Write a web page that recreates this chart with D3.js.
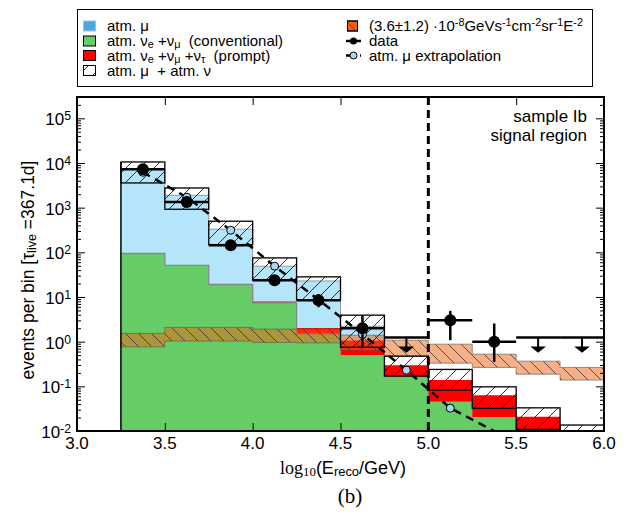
<!DOCTYPE html>
<html>
<head>
<meta charset="utf-8">
<script src="https://cdn.jsdelivr.net/npm/d3@7"></script>
<style>
  body { margin: 0; background: #fff; }
  svg { display: block; }
  text { font-family: 'Liberation Sans', Arial, sans-serif; fill: #000; }
</style>
</head>
<body>
<div id="chart"></div>
<script>
// bin edges in log10(E/GeV)
const binEdges = [3.25, 3.5, 3.75, 4.0, 4.25, 4.5, 4.75, 5.0, 5.25, 5.5, 5.75, 6.0];
const binCenters = [3.375, 3.625, 3.875, 4.125, 4.375, 4.625, 4.875, 5.125, 5.375, 5.625, 5.875];

// stacked MC (events per bin)
const conventional = [94, 51, 19, 7.4, 1.47, 0.5, 0.169, 0.045, 0.0205, 0.005, 0.003];
const prompt = [0.2, 0.2, 1.0, 0.65, 0.59, 0.58, 0.129, 0.093, 0.043, 0.0158, 0.006];
const atmMu = [7100, 1840, 309, 40.8, 20.8, 1.14, 0, 0, 0, 0, 0];

// uncertainty band of atm. mu + atm. nu
const bandHi = [10540, 2760, 497, 75, 28.2, 3.92, 0.474, 0.239, 0.0975, 0.033, 0.0136];
const bandLo = [3573, 920, 149, 23.8, 8.6, 0.75, 0.169, 0.082, 0.032, 0.0109, 0.004];

// E^-2 signal band
const sigHi = [1.53, 2.08, 2.08, 1.91, 1.91, 1.40, 1.08, 0.88, 0.525, 0.366, 0.265];
const sigLo = [0.766, 1.03, 1.03, 0.96, 0.94, 0.645, 0.474, 0.33, 0.265, 0.187, 0.138];

// data (null = upper limit bin)
const dataVal = [7230, 1340, 144, 23.8, 8.5, 2.0, null, 3.0, 1.0, null, null];
const dataLo = [7150, 1303, 132, 19, 5.9, 0.77, null, 1.08, 0.353, null, null];
const dataHi = [7315, 1377, 156, 29, 11.6, 3.93, null, 4.9, 2.55, null, null];
const upperLimit = [null, null, null, null, null, null, 1.24, null, null, 1.24, 1.24];

// atm. mu extrapolation
const extrapX = [3.375, 3.625, 3.875, 4.125, 4.375, 4.625, 4.875, 5.125, 5.375];
const extrapVal = [6200, 1710, 312, 48.9, 8.7, 1.46, 0.23, 0.0325, 0.0041];

const xTicks = [3.0, 3.5, 4.0, 4.5, 5.0, 5.5, 6.0];
const yExponents = [-2, -1, 0, 1, 2, 3, 4, 5];

const W = 641, H = 521;
const plot = { l: 77, r: 604, t: 97, b: 431 };

const svg = d3.select('#chart').append('svg').attr('width', W).attr('height', H);

const x = d3.scaleLinear().domain([3.0, 6.0]).range([plot.l, plot.r]);
const y = d3.scaleLog().domain([1e-2, 3e5]).range([plot.b, plot.t]).clamp(true);

// patterns
const defs = svg.append('defs');
defs.append('pattern').attr('id', 'hatchF').attr('patternUnits', 'userSpaceOnUse')
  .attr('width', 14).attr('height', 14)
  .append('path').attr('d', 'M-2,2 L2,-2 M0,14 L14,0 M12,16 L16,12')
  .attr('stroke', '#000').attr('stroke-width', 0.8);
defs.append('pattern').attr('id', 'hatchB').attr('patternUnits', 'userSpaceOnUse')
  .attr('width', 13).attr('height', 13)
  .append('path').attr('d', 'M-2,11 L2,15 M0,0 L13,13 M11,-2 L15,2')
  .attr('stroke', '#333').attr('stroke-width', 0.8);
defs.append('clipPath').attr('id', 'clip').append('rect')
  .attr('x', plot.l).attr('y', plot.t).attr('width', plot.r - plot.l).attr('height', plot.b - plot.t);

const g = svg.append('g').attr('clip-path', 'url(#clip)');

// step helpers
const stepPts = (lo, hi) => lo.flatMap((v, i) => [[binEdges[i], v, hi[i]], [binEdges[i + 1], v, hi[i]]]);
const stepArea = d3.area().x((d) => x(d[0])).y0((d) => y(d[1])).y1((d) => y(d[2]));
const stepLine = d3.line().x((d) => x(d[0])).y((d) => y(d[2]));

const floor = binCenters.map(() => 1e-3);
const redTop = conventional.map((v, i) => v + prompt[i]);
const blueTop = redTop.map((v, i) => v + atmMu[i]);

// green: conventional
g.append('path').attr('d', stepArea(stepPts(floor, conventional))).attr('fill', '#66cc66');
// red: prompt
g.append('path').attr('d', stepArea(stepPts(conventional, redTop))).attr('fill', '#ff0000');
// blue: atm mu
g.append('path').attr('d', stepArea(stepPts(redTop, blueTop))).attr('fill', '#b4e5fb');

g.append('path').attr('d', stepLine(stepPts(floor, conventional).slice(0, 10)))
  .attr('fill', 'none').attr('stroke', '#888').attr('stroke-width', 1.3);
g.append('path').attr('d', stepLine(stepPts(floor, blueTop).slice(0, 12)))
  .attr('fill', 'none').attr('stroke', '#999').attr('stroke-width', 1);

// signal band
g.append('path').attr('d', stepArea(stepPts(sigLo, sigHi)))
  .attr('fill', '#f06010').attr('fill-opacity', 0.5);
g.append('path').attr('d', stepArea(stepPts(sigLo, sigHi)))
  .attr('fill', 'url(#hatchB)').attr('stroke', '#555').attr('stroke-opacity', 0.6).attr('stroke-width', 1);

// MC uncertainty band
g.selectAll('.band').data(bandHi).join('rect').attr('class', 'band')
  .attr('x', (d, i) => x(binEdges[i]))
  .attr('width', (d, i) => x(binEdges[i + 1]) - x(binEdges[i]))
  .attr('y', (d) => y(d))
  .attr('height', (d, i) => y(bandLo[i]) - y(d))
  .attr('fill', 'url(#hatchF)').attr('stroke', '#000').attr('stroke-width', 1.3);
// left edge of histogram
g.append('line').attr('x1', x(binEdges[0])).attr('x2', x(binEdges[0]))
  .attr('y1', y(bandHi[0])).attr('y2', plot.b).attr('stroke', '#000').attr('stroke-width', 1.5);

// extrapolation
g.append('path').datum(extrapVal)
  .attr('d', d3.line().x((d, i) => x(extrapX[i])).y((d) => y(d)))
  .attr('fill', 'none').attr('stroke', '#000').attr('stroke-width', 2.5).attr('stroke-dasharray', '8,6');
g.selectAll('.ext').data(extrapVal.slice(0, 8)).join('circle').attr('class', 'ext')
  .attr('cx', (d, i) => x(extrapX[i])).attr('cy', (d) => y(d)).attr('r', 4)
  .attr('fill', '#a8d8f0').attr('stroke', '#000').attr('stroke-width', 1);

// signal region cut
g.append('line').attr('x1', x(5.0)).attr('x2', x(5.0)).attr('y1', plot.t).attr('y2', plot.b)
  .attr('stroke', '#000').attr('stroke-width', 3).attr('stroke-dasharray', '8,5');

// data
const dataIdx = dataVal.map((v, i) => i).filter((i) => dataVal[i] !== null);
g.selectAll('.xerr').data(dataIdx).join('line').attr('class', 'xerr')
  .attr('x1', (i) => x(binEdges[i])).attr('x2', (i) => x(binEdges[i + 1]))
  .attr('y1', (i) => y(dataVal[i])).attr('y2', (i) => y(dataVal[i]))
  .attr('stroke', '#000').attr('stroke-width', 2.5);
g.selectAll('.yerr').data(dataIdx).join('line').attr('class', 'yerr')
  .attr('x1', (i) => x(binCenters[i])).attr('x2', (i) => x(binCenters[i]))
  .attr('y1', (i) => y(dataLo[i])).attr('y2', (i) => y(dataHi[i]))
  .attr('stroke', '#000').attr('stroke-width', 2.5);
g.selectAll('.dot').data(dataIdx).join('circle').attr('class', 'dot')
  .attr('cx', (i) => x(binCenters[i])).attr('cy', (i) => y(dataVal[i])).attr('r', 6).attr('fill', '#000');

const ulIdx = upperLimit.map((v, i) => i).filter((i) => upperLimit[i] !== null);
g.selectAll('.ulbar').data(ulIdx).join('line').attr('class', 'ulbar')
  .attr('x1', (i) => x(binEdges[i])).attr('x2', (i) => x(binEdges[i + 1]))
  .attr('y1', (i) => y(upperLimit[i])).attr('y2', (i) => y(upperLimit[i]))
  .attr('stroke', '#000').attr('stroke-width', 2.5);
g.selectAll('.ularrow').data(ulIdx).join('path').attr('class', 'ularrow')
  .attr('d', (i) => {
    const cx = x(binCenters[i]), cy = y(upperLimit[i]);
    return `M${cx},${cy} L${cx},${cy + 12} M${cx - 5},${cy + 10} L${cx},${cy + 14} L${cx + 5},${cy + 10} Z`;
  })
  .attr('stroke', '#000').attr('stroke-width', 2).attr('fill', '#000');

// axes (inward ticks)
const minor = y.ticks().filter((v) => Math.abs(Math.log10(v) - Math.round(Math.log10(v))) > 1e-6);
const major = yExponents.map((e) => Math.pow(10, e));
const tickStyle = (sel) => { sel.select('.domain').remove(); sel.selectAll('line').attr('stroke', '#000'); };

svg.append('g').attr('transform', `translate(${plot.l},0)`)
  .call(d3.axisRight(y).tickValues(major).tickSize(8).tickFormat('')).call(tickStyle);
svg.append('g').attr('transform', `translate(${plot.l},0)`)
  .call(d3.axisRight(y).tickValues(minor).tickSize(4).tickFormat('')).call(tickStyle);
svg.append('g').attr('transform', `translate(${plot.r},0)`)
  .call(d3.axisLeft(y).tickValues(major).tickSize(8).tickFormat('')).call(tickStyle);
svg.append('g').attr('transform', `translate(${plot.r},0)`)
  .call(d3.axisLeft(y).tickValues(minor).tickSize(4).tickFormat('')).call(tickStyle);
svg.append('g').attr('transform', `translate(0,${plot.b})`)
  .call(d3.axisTop(x).tickValues(xTicks).tickSize(8).tickFormat('')).call(tickStyle);
svg.append('g').attr('transform', `translate(0,${plot.t})`)
  .call(d3.axisBottom(x).tickValues(xTicks).tickSize(8).tickFormat('')).call(tickStyle);

svg.append('rect').attr('x', plot.l).attr('y', plot.t)
  .attr('width', plot.r - plot.l).attr('height', plot.b - plot.t)
  .attr('fill', 'none').attr('stroke', '#000').attr('stroke-width', 2);

// tick labels
svg.selectAll('.xlab').data(xTicks).join('text').attr('class', 'xlab')
  .attr('x', (d) => x(d)).attr('y', plot.b + 18).attr('text-anchor', 'middle')
  .attr('font-size', 17).text((d) => d.toFixed(1));

const ylab = svg.selectAll('.ylab').data(yExponents).join('text').attr('class', 'ylab')
  .attr('x', 71).attr('y', (d) => y(Math.pow(10, d)) + 7).attr('text-anchor', 'end').attr('font-size', 17);
ylab.append('tspan').text('10');
ylab.append('tspan').attr('baseline-shift', '45%').attr('font-size', '72%').text((d) => d);

// rich text helper
function rich(sel, parts) {
  parts.forEach(([t, k, fam]) => {
    const ts = sel.append('tspan').text(t);
    if (k === 'sub') ts.attr('baseline-shift', '-18%').attr('font-size', '72%');
    if (k === 'sup') ts.attr('baseline-shift', '45%').attr('font-size', '72%');
    if (fam) ts.style('font-family', fam);
  });
}

// axis titles
const serif = "'Liberation Serif', 'Times New Roman', serif";
rich(svg.append('text').attr('x', 343).attr('y', 474).attr('text-anchor', 'middle').attr('font-size', 18),
  [['log', 'n', serif], ['10', 'sub', serif], ['(E', 'n'], ['reco', 'sub'], ['/GeV)', 'n']]);
rich(svg.append('text').attr('transform', 'translate(34,270) rotate(-90)').attr('text-anchor', 'middle').attr('font-size', 17.5),
  [['events per bin [τ', 'n'], ['live', 'sub'], [' =367.1d]', 'n']]);
svg.append('text').attr('x', 350).attr('y', 503).attr('text-anchor', 'middle')
  .attr('font-size', 21).style('font-family', serif).text('(b)');

// region annotation
svg.append('text').attr('x', 587).attr('y', 122).attr('text-anchor', 'end').attr('font-size', 17).text('sample Ib');
svg.append('text').attr('x', 587).attr('y', 141).attr('text-anchor', 'end').attr('font-size', 17).text('signal region');

// legend
const lg = svg.append('g');
lg.append('rect').attr('x', 77.5).attr('y', 9.5).attr('width', 515).attr('height', 77)
  .attr('fill', '#fff').attr('stroke', '#000').attr('stroke-width', 1);
const legRows = [26, 41, 55.5, 70.5];
const legLeft = [
  { fill: '#4da6e0', stroke: '#8cc8ee', parts: [['atm. μ', 'n']] },
  { fill: '#66cc66', stroke: '#000', parts: [['atm. ν', 'n'], ['e', 'sub'], [' +ν', 'n'], ['μ', 'sub'], ['  (conventional)', 'n']] },
  { fill: '#ff0000', stroke: '#000', parts: [['atm. ν', 'n'], ['e', 'sub'], [' +ν', 'n'], ['μ', 'sub'], [' +ν', 'n'], ['τ', 'sub'], ['  (prompt)', 'n']] },
  { fill: 'url(#hatchF)', stroke: '#000', parts: [['atm. μ  + atm. ν', 'n']] },
];
legLeft.forEach((e, i) => {
  lg.append('rect').attr('x', 83.5).attr('y', legRows[i] - 5).attr('width', 12).attr('height', 10)
    .attr('fill', e.fill).attr('stroke', e.stroke).attr('stroke-width', 1);
  rich(lg.append('text').attr('x', 107).attr('y', legRows[i] + 5).attr('font-size', 15).style('white-space', 'pre'), e.parts);
});
// right column
lg.append('rect').attr('x', 347.5).attr('y', legRows[0] - 5).attr('width', 10).attr('height', 10)
  .attr('fill', '#f06010').attr('stroke', '#000');
lg.append('rect').attr('x', 347.5).attr('y', legRows[0] - 5).attr('width', 10).attr('height', 10)
  .attr('fill', 'url(#hatchB)').attr('stroke', '#000');
rich(lg.append('text').attr('x', 369).attr('y', legRows[0] + 5).attr('font-size', 15).style('white-space', 'pre'),
  [['(3.6', 'n'], ['±', 'n'], ['1.2)', 'n'], [' ·10', 'n'], ['-8', 'sup'], ['GeVs', 'n'], ['-1', 'sup'], ['cm', 'n'], ['-2', 'sup'], ['sr', 'n'], ['-1', 'sup'], ['E', 'n'], ['-2', 'sup']]);
lg.append('line').attr('x1', 346).attr('x2', 361).attr('y1', legRows[1]).attr('y2', legRows[1]).attr('stroke', '#000').attr('stroke-width', 2.5);
lg.append('circle').attr('cx', 353.5).attr('cy', legRows[1]).attr('r', 3.5).attr('fill', '#000');
lg.append('text').attr('x', 369).attr('y', legRows[1] + 5).attr('font-size', 15).text('data');
lg.append('line').attr('x1', 346).attr('x2', 361).attr('y1', legRows[2]).attr('y2', legRows[2]).attr('stroke', '#000').attr('stroke-width', 2.5).attr('stroke-dasharray', '4,3');
lg.append('circle').attr('cx', 353.5).attr('cy', legRows[2]).attr('r', 3.5).attr('fill', '#a8d8f0').attr('stroke', '#000');
lg.append('text').attr('x', 369).attr('y', legRows[2] + 5).attr('font-size', 15).text('atm. μ extrapolation');
</script>
</body>
</html>
